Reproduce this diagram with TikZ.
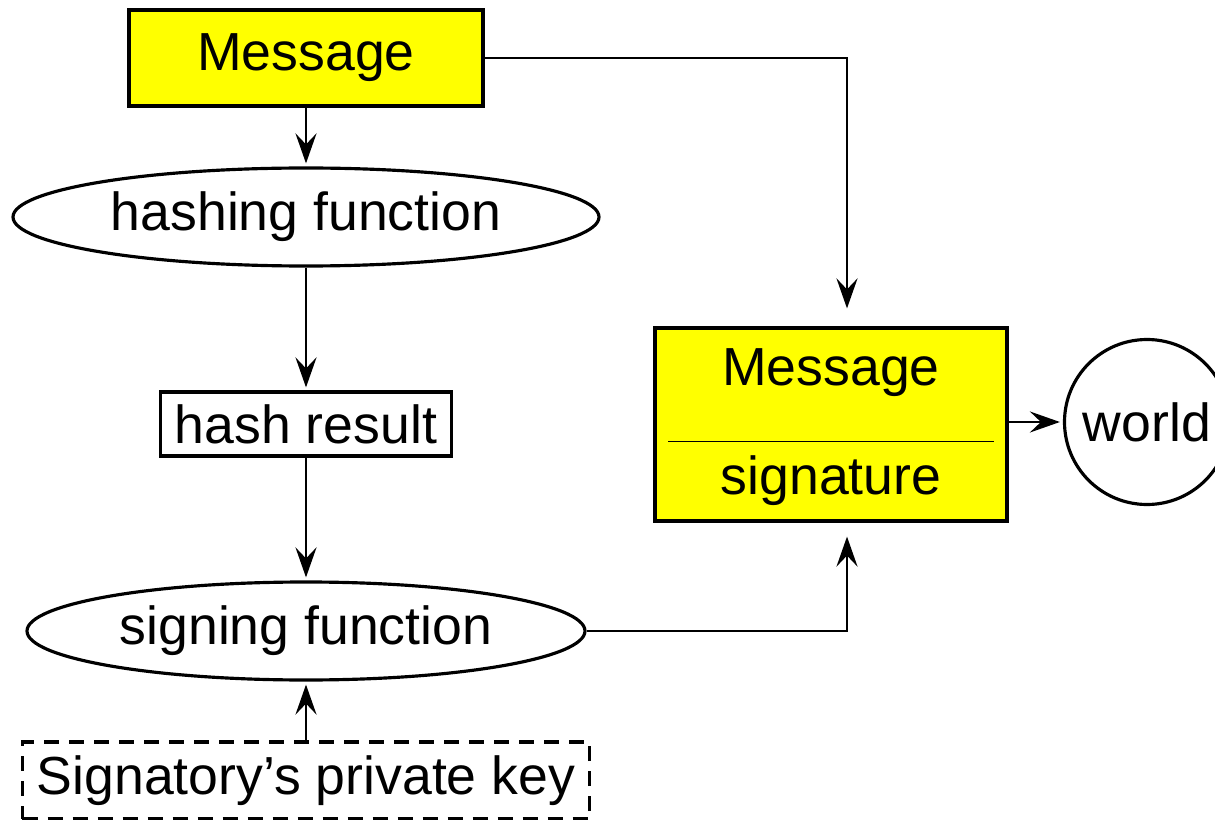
\documentclass[tikz,border=0pt]{standalone}
\usepackage{fontspec}
\setmainfont{Liberation Sans}
\usetikzlibrary{arrows.meta,shapes.geometric}
\definecolor{msgyellow}{RGB}{255,255,0}
\tikzstyle{box}=[rectangle, draw=black, line width=1.8pt, inner sep=0pt, anchor=center]
\tikzstyle{msgbox}=[box, fill=msgyellow]
\tikzstyle{func}=[ellipse, draw=black, line width=1.8pt, inner sep=0pt, anchor=center]
\tikzstyle{annot}=[align=center, inner sep=0pt]
\tikzstyle{flow}=[line width=1.6pt, -{Stealth[length=0.6cm,width=0.42cm,inset=0.22cm]}, shorten >=0.06cm]
\newcommand{\bigtext}{\fontsize{30.5}{36}\selectfont}

\begin{document}
\begin{tikzpicture}[font=\bigtext]
	\useasboundingbox (0,0) rectangle (24.3,-16.4);

	% left column
	\node[msgbox, minimum width=7.08cm, minimum height=1.92cm](msg) at (6.12,-1.16){Message};
	\node[func, minimum width=11.72cm, minimum height=1.96cm, below of=msg, node distance=3.18cm](hashfn){hashing function};
	\node[box, minimum width=5.82cm, minimum height=1.28cm, below of=hashfn, node distance=4.14cm](hashres){hash result};
	\node[func, minimum width=11.16cm, minimum height=1.96cm, below of=hashres, node distance=4.14cm](signfn){signing function};
	\node[box, dash pattern=on 0.3cm off 0.2cm, minimum width=11.34cm, minimum height=1.54cm, below of=signfn, node distance=2.99cm](privkey){Signatory's private key};

	% signed message
	\node[msgbox, minimum width=7.04cm, minimum height=3.86cm](sigbox) at (16.62,-8.49){};
	\node[annot, above of=sigbox, node distance=1.04cm](sigmsg){Message};
	\node[annot, below of=sigbox, node distance=1.12cm](sigsig){signature};
	\draw[line width=0.8pt] ([xshift=-3.26cm,yshift=-0.34cm]sigbox.center) -- ([xshift=3.26cm,yshift=-0.34cm]sigbox.center);
	\node[circle, draw=black, line width=1.8pt, minimum size=3.3cm, inner sep=0pt](world) at (22.94,-8.44){world};

	\draw[flow] (msg) -- (hashfn);
	\draw[flow] (hashfn) -- (hashres);
	\draw[flow] (hashres) -- (signfn);
	\draw[flow] (privkey) -- (signfn);
	\draw[flow, shorten >=0.36cm] (msg.east) -| ([xshift=0.32cm]sigbox.north);
	\draw[flow, shorten >=0.28cm] (signfn.east) -| ([xshift=0.32cm]sigbox.south);
	\draw[flow] (sigbox.east |- world.center) -- (world);
\end{tikzpicture}
\end{document}
